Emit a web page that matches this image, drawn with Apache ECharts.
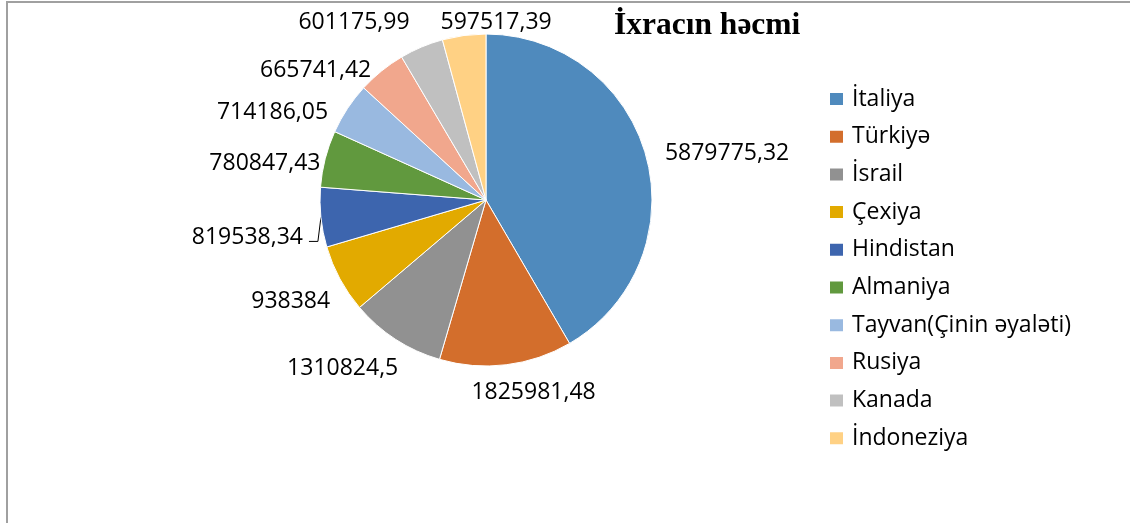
<!DOCTYPE html>
<html><head><meta charset="utf-8">
<script src="https://cdn.jsdelivr.net/npm/echarts@6/dist/echarts.min.js"></script>
<style>html,body{margin:0;padding:0;background:#fff}#c{width:1130px;height:523px}</style>
</head><body><div id="c"></div>
<script>
const chartTitle = 'İxracın həcmi';
const categories = ['İtaliya','Türkiyə','İsrail','Çexiya','Hindistan','Almaniya','Tayvan(Çinin əyaləti)','Rusiya','Kanada','İndoneziya'];
const values = [5879775.32,1825981.48,1310824.5,938384,819538.34,780847.43,714186.05,665741.42,601175.99,597517.39];

// styling (not data)
const colors = ['#4F8ABD','#D36E2C','#919191','#E2AA00','#3D65AE','#61993E','#99B9E0','#F1A78D','#C0C0C0','#FFD184'];
const labelShift = [[4,-1],[-41,18],[13,21],[4,18],[-3,19],[10,7],[-6,9],[1,7],[-3,-15],[94,-3]];
const leaderIndex = 4;

const chart = echarts.init(document.getElementById('c'), null, {renderer: 'canvas'});
const pieData = categories.map((n, i) => {
  const d = {name: n, value: values[i], itemStyle: {color: colors[i]}};
  if (i === leaderIndex) d.labelLine = {show: true};
  return d;
});
chart.setOption({
  animation: false,
  backgroundColor: '#fff',
  title: {
    text: chartTitle, left: 614, top: 10, padding: 0,
    textStyle: {fontFamily: 'Liberation Serif', fontWeight: 'bold', fontSize: 31.5, color: '#000'}
  },
  legend: {
    data: categories, orient: 'vertical', left: 828, top: 87, padding: 0,
    itemWidth: 15, itemHeight: 14, itemGap: 13.7, icon: 'rect', selectedMode: false,
    textStyle: {fontFamily: 'Open Sans', fontSize: 23, color: '#000', lineHeight: 24, padding: [0,0,0,3]}
  },
  graphic: [{
    type: 'polyline', silent: true,
    shape: {points: [[7,523],[7,2],[1130,2]]},
    style: {stroke: '#a0a0a0', lineWidth: 2, fill: null}
  }],
  series: [{
    type: 'pie',
    center: [486, 200], radius: 166,
    startAngle: 90, clockwise: true,
    avoidLabelOverlap: false,
    emphasis: {disabled: true},
    itemStyle: {borderColor: '#fff', borderWidth: 1},
    label: {
      show: true, position: 'outside', distanceToLabelLine: 5,
      fontFamily: 'Open Sans', fontSize: 23, color: '#000',
      formatter: p => String(p.value).replace('.', ',')
    },
    labelLine: {show: false, length: 10, length2: 0, lineStyle: {color: '#000', width: 1}},
    labelLayout: function (params) {
      const s = labelShift[params.dataIndex];
      const out = {dx: s[0], dy: s[1]};
      if (params.dataIndex === leaderIndex && params.labelLinePoints) {
        const p0 = params.labelLinePoints[0];
        const r = params.labelRect;
        const yl = r.y + s[1] + r.height / 2 + 4;
        const xe = r.x + s[0] + r.width + 6;
        out.labelLinePoints = [[p0[0], p0[1]], [p0[0] - 3, yl], [xe, yl]];
      }
      return out;
    },
    data: pieData
  }]
});
</script></body></html>
